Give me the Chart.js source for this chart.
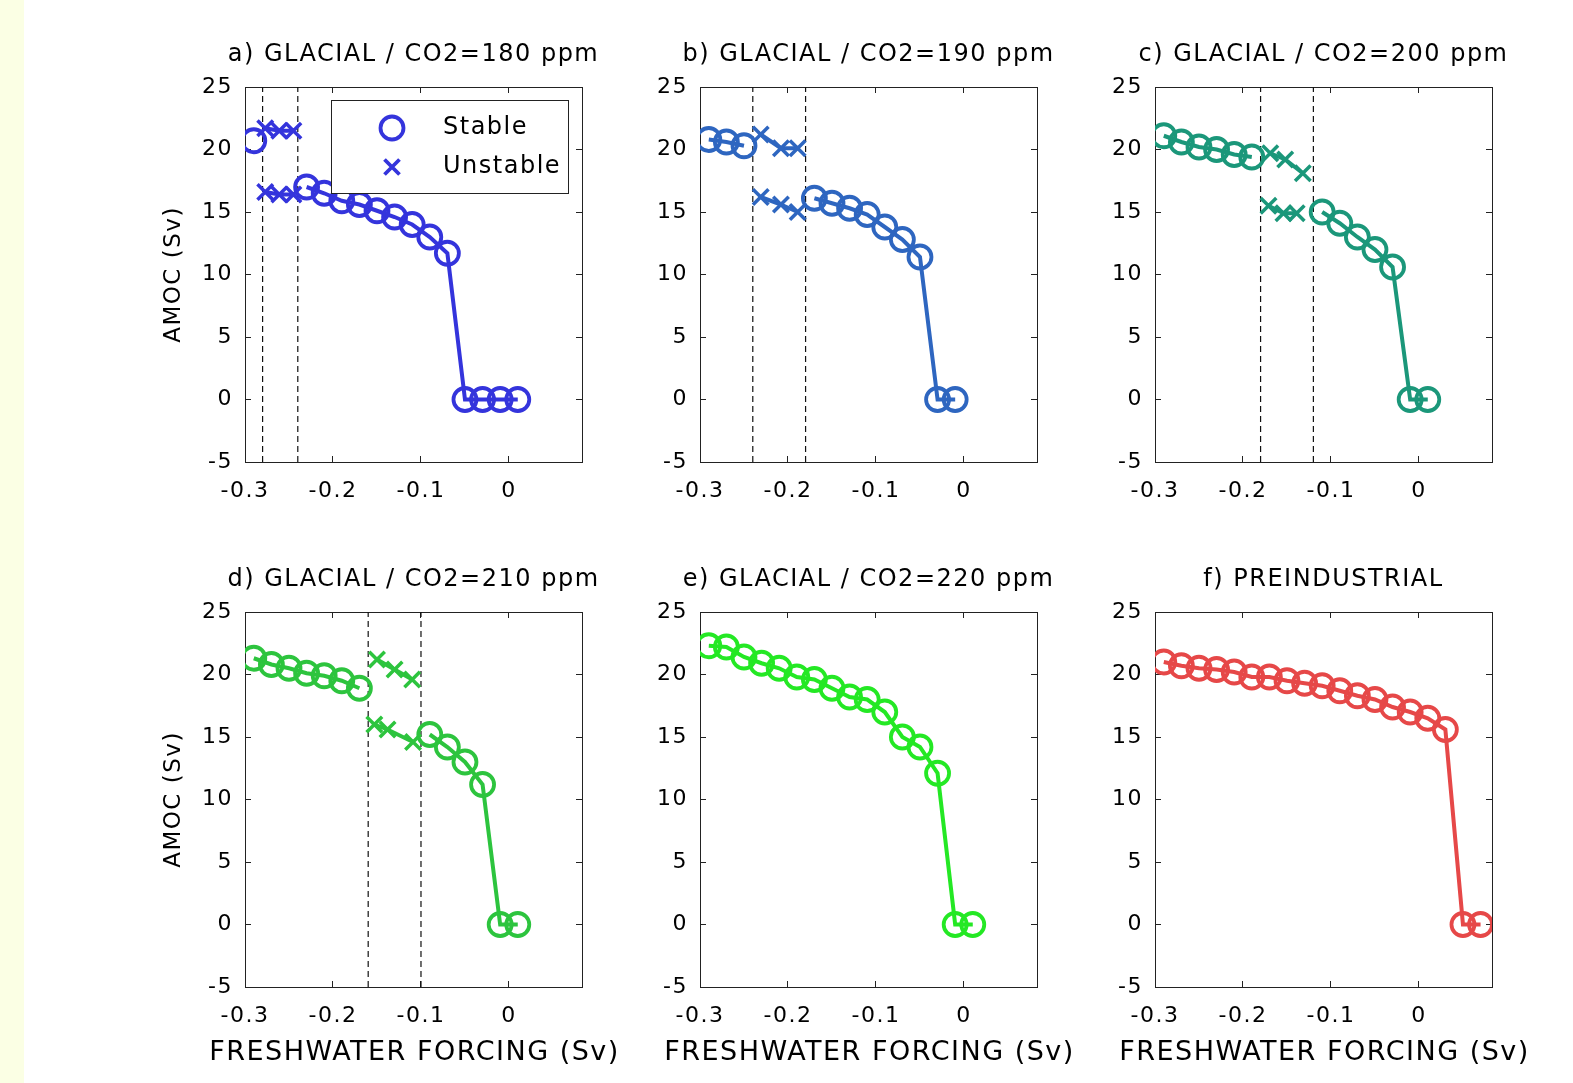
<!DOCTYPE html>
<html>
<head>
<meta charset="utf-8">
<title>AMOC hysteresis</title>
<script src="https://cdn.jsdelivr.net/npm/chart.js@4.4.1/dist/chart.umd.min.js"></script>
<style>
  html, body { margin: 0; padding: 0; background: #fff; }
  body { width: 1573px; height: 1083px; position: relative; overflow: hidden; }
  .strip { position: absolute; left: 0; top: 0; width: 24px; height: 1083px; background: #fbffe4; }
  canvas { position: absolute; }
</style>
</head>
<body>
<div class="strip"></div>
<canvas id="chart-a" width="547" height="515" style="left:140px;top:37px"></canvas>
<canvas id="chart-b" width="547" height="515" style="left:595px;top:37px"></canvas>
<canvas id="chart-c" width="547" height="515" style="left:1050px;top:37px"></canvas>
<canvas id="chart-d" width="547" height="515" style="left:140px;top:562px"></canvas>
<canvas id="chart-e" width="547" height="515" style="left:595px;top:562px"></canvas>
<canvas id="chart-f" width="547" height="515" style="left:1050px;top:562px"></canvas>
<script>
const xTicks = [-0.3, -0.2, -0.1, 0];
const yTicks = [-5, 0, 5, 10, 15, 20, 25];
const X_MIN = -0.3, X_MAX = 0.083;
const Y_MIN = -5, Y_MAX = 25;
const legendLabels = ["Stable", "Unstable"];
const X_TITLE = "FRESHWATER FORCING (Sv)";
const Y_TITLE = "AMOC (Sv)";

// a) 180 ppm
const aStableHiX = [-0.29];
const aStableHiY = [20.7];
const aUnstHiX = [-0.277, -0.261, -0.245];
const aUnstHiY = [21.7, 21.5, 21.5];
const aUnstLoX = [-0.277, -0.261, -0.245];
const aUnstLoY = [16.6, 16.4, 16.4];
const aStableLoX = [-0.23, -0.21, -0.19, -0.17, -0.15, -0.13, -0.11, -0.09, -0.07, -0.05, -0.03, -0.01, 0.01];
const aStableLoY = [17.0, 16.5, 15.9, 15.6, 15.1, 14.6, 14.0, 13.0, 11.7, 0, 0, 0, 0];
const aDashX = [-0.28, -0.24];

// b) 190 ppm
const bStableHiX = [-0.29, -0.27, -0.25];
const bStableHiY = [20.8, 20.6, 20.3];
const bUnstHiX = [-0.231, -0.208, -0.189];
const bUnstHiY = [21.2, 20.1, 20.1];
const bUnstLoX = [-0.231, -0.208, -0.189];
const bUnstLoY = [16.2, 15.6, 15.0];
const bStableLoX = [-0.17, -0.15, -0.13, -0.11, -0.09, -0.07, -0.05, -0.03, -0.01];
const bStableLoY = [16.1, 15.7, 15.3, 14.8, 13.8, 12.8, 11.4, 0, 0];
const bDashX = [-0.24, -0.18];

// c) 200 ppm
const cStableHiX = [-0.29, -0.27, -0.25, -0.23, -0.21, -0.19];
const cStableHiY = [21.1, 20.6, 20.2, 20.0, 19.6, 19.4];
const cUnstHiX = [-0.169, -0.152, -0.132];
const cUnstHiY = [19.7, 19.2, 18.1];
const cUnstLoX = [-0.171, -0.154, -0.139];
const cUnstLoY = [15.5, 14.9, 14.9];
const cStableLoX = [-0.11, -0.09, -0.07, -0.05, -0.03, -0.01, 0.01];
const cStableLoY = [15.0, 14.1, 13.0, 12.0, 10.6, 0, 0];
const cDashX = [-0.18, -0.12];

// d) 210 ppm
const dStableHiX = [-0.29, -0.27, -0.25, -0.23, -0.21, -0.19, -0.17];
const dStableHiY = [21.3, 20.8, 20.5, 20.1, 19.9, 19.5, 18.9];
const dUnstHiX = [-0.15, -0.13, -0.11];
const dUnstHiY = [21.2, 20.4, 19.6];
const dUnstLoX = [-0.153, -0.138, -0.109];
const dUnstLoY = [16.0, 15.6, 14.6];
const dStableLoX = [-0.09, -0.07, -0.05, -0.03, -0.01, 0.01];
const dStableLoY = [15.2, 14.2, 13.0, 11.2, 0, 0];
const dDashX = [-0.16, -0.10];

// e) 220 ppm
const eStableX = [-0.29, -0.27, -0.25, -0.23, -0.21, -0.19, -0.17, -0.15, -0.13, -0.11, -0.09, -0.07, -0.05, -0.03, -0.01, 0.01];
const eStableY = [22.3, 22.2, 21.4, 20.9, 20.5, 19.8, 19.6, 18.9, 18.2, 18.0, 17.0, 15.0, 14.2, 12.1, 0, 0];

// f) preindustrial
const fStableX = [-0.29, -0.27, -0.25, -0.23, -0.21, -0.19, -0.17, -0.15, -0.13, -0.11, -0.09, -0.07, -0.05, -0.03, -0.01, 0.01, 0.03, 0.05, 0.07];
const fStableY = [21.0, 20.7, 20.5, 20.4, 20.2, 19.8, 19.8, 19.5, 19.3, 19.1, 18.7, 18.3, 18.0, 17.4, 17.0, 16.5, 15.6, 0, 0];

const panels = [
  {
    id: "chart-a", title: "a) GLACIAL / CO2=180 ppm", color: "#3434dc",
    yTitle: true, xTitle: false, legend: true, dash: aDashX,
    series: [
      { x: aStableHiX, y: aStableHiY, stable: true },
      { x: aUnstHiX, y: aUnstHiY, stable: false },
      { x: aUnstLoX, y: aUnstLoY, stable: false },
      { x: aStableLoX, y: aStableLoY, stable: true },
    ],
  },
  {
    id: "chart-b", title: "b) GLACIAL / CO2=190 ppm", color: "#2e66c0",
    yTitle: false, xTitle: false, legend: false, dash: bDashX,
    series: [
      { x: bStableHiX, y: bStableHiY, stable: true },
      { x: bUnstHiX, y: bUnstHiY, stable: false },
      { x: bUnstLoX, y: bUnstLoY, stable: false },
      { x: bStableLoX, y: bStableLoY, stable: true },
    ],
  },
  {
    id: "chart-c", title: "c) GLACIAL / CO2=200 ppm", color: "#1b977a",
    yTitle: false, xTitle: false, legend: false, dash: cDashX,
    series: [
      { x: cStableHiX, y: cStableHiY, stable: true },
      { x: cUnstHiX, y: cUnstHiY, stable: false },
      { x: cUnstLoX, y: cUnstLoY, stable: false },
      { x: cStableLoX, y: cStableLoY, stable: true },
    ],
  },
  {
    id: "chart-d", title: "d) GLACIAL / CO2=210 ppm", color: "#2dc43e",
    yTitle: true, xTitle: true, legend: false, dash: dDashX,
    series: [
      { x: dStableHiX, y: dStableHiY, stable: true },
      { x: dUnstHiX, y: dUnstHiY, stable: false },
      { x: dUnstLoX, y: dUnstLoY, stable: false },
      { x: dStableLoX, y: dStableLoY, stable: true },
    ],
  },
  {
    id: "chart-e", title: "e) GLACIAL / CO2=220 ppm", color: "#24e824",
    yTitle: false, xTitle: true, legend: false, dash: [],
    series: [{ x: eStableX, y: eStableY, stable: true }],
  },
  {
    id: "chart-f", title: "f) PREINDUSTRIAL", color: "#e64848",
    yTitle: false, xTitle: true, legend: false, dash: [],
    series: [{ x: fStableX, y: fStableY, stable: true }],
  },
];

Chart.defaults.font.family = "'DejaVu Sans', 'Liberation Sans', sans-serif";
Chart.defaults.color = "#000";

// the original lettering is wide, so space the glyphs out a little
const wideText = {
  id: "wideText",
  beforeUpdate(chart) { chart.ctx.letterSpacing = "1.5px"; },
  beforeDraw(chart) { chart.ctx.letterSpacing = "1.5px"; },
};

// x caption drawn by hand: the scale title would squeeze it to the plot width
const xCaption = {
  id: "xCaption",
  afterDraw(chart, args, opts) {
    if (!opts.show) return;
    const { ctx, chartArea } = chart;
    ctx.save();
    ctx.font = "27px 'DejaVu Sans'";
    ctx.letterSpacing = "1.5px";
    ctx.fillStyle = "#000";
    ctx.textAlign = "center";
    ctx.textBaseline = "middle";
    ctx.fillText(X_TITLE, (chartArea.left + chartArea.right) / 2 + 1, chartArea.bottom + 66);
    ctx.restore();
  },
};

// boxed legend in the top right corner of panel a
const boxLegend = {
  id: "boxLegend",
  afterDatasetsDraw(chart, args, opts) {
    if (!opts.show) return;
    const { ctx, chartArea } = chart;
    const w = 237, h = 93;
    const left = Math.round(chartArea.right - 14 - w);
    const top = Math.round(chartArea.top + 13);
    ctx.save();
    ctx.fillStyle = "#fff";
    ctx.fillRect(left, top, w, h);
    ctx.strokeStyle = "#222";
    ctx.lineWidth = 1;
    ctx.strokeRect(left + 0.5, top + 0.5, w, h);
    legendLabels.forEach((label, i) => {
      const cx = left + 61, cy = top + 28 + i * 39;
      ctx.strokeStyle = opts.color;
      ctx.lineWidth = 3.8;
      ctx.beginPath();
      if (i === 0) {
        ctx.arc(cx, cy, 11.5, 0, Math.PI * 2);
      } else {
        const d = 7.5;
        ctx.moveTo(cx - d, cy - d); ctx.lineTo(cx + d, cy + d);
        ctx.moveTo(cx + d, cy - d); ctx.lineTo(cx - d, cy + d);
      }
      ctx.stroke();
      ctx.fillStyle = "#000";
      ctx.font = "24px 'DejaVu Sans'";
      ctx.letterSpacing = "1.5px";
      ctx.textBaseline = "middle";
      ctx.textAlign = "left";
      ctx.fillText(label, left + 112, cy);
    });
    ctx.restore();
  },
};

function axisGrid() {
  return { drawOnChartArea: false, drawTicks: true, tickLength: -6, color: "#222", lineWidth: 1 };
}

function axisBorder() {
  return { display: true, color: "#222", width: 1 };
}

function makePanel(p) {
  const datasets = [];
  p.dash.forEach((x) => {
    datasets.push({
      data: [{ x, y: Y_MIN }, { x, y: Y_MAX }],
      showLine: true,
      borderColor: "#111",
      borderWidth: 1.2,
      borderDash: [6, 4],
      pointRadius: 0,
      order: 10,
    });
  });
  p.series.forEach((s) => {
    datasets.push({
      data: s.x.map((x, i) => ({ x, y: s.y[i] })),
      showLine: true,
      tension: 0,
      borderColor: p.color,
      backgroundColor: "rgba(0,0,0,0)",
      borderWidth: 4,
      pointStyle: s.stable ? "circle" : "crossRot",
      pointRadius: s.stable ? 11.5 : 11,
      pointBorderWidth: s.stable ? 3.8 : 3.5,
      pointBorderColor: p.color,
      pointBackgroundColor: "rgba(0,0,0,0)",
      order: 1,
    });
  });

  const setX = (scale) => { scale.ticks = xTicks.map((v) => ({ value: v })); };
  const setY = (scale) => { scale.ticks = yTicks.map((v) => ({ value: v })); };

  new Chart(document.getElementById(p.id), {
    type: "scatter",
    data: { datasets },
    options: {
      responsive: false,
      animation: false,
      devicePixelRatio: 1,
      layout: { padding: { top: 3.6, left: 0, right: 0, bottom: 0 } },
      plugins: {
        legend: { display: false },
        tooltip: { enabled: false },
        title: {
          display: true,
          text: p.title,
          color: "#000",
          font: { size: 24, weight: "normal" },
          padding: { top: 0, bottom: 17.6 },
        },
        boxLegend: { show: p.legend, color: p.color },
        xCaption: { show: p.xTitle },
      },
      scales: {
        x: {
          type: "linear", position: "bottom", min: X_MIN, max: X_MAX,
          afterBuildTicks: setX,
          afterFit: (s) => { s.height = 90; },
          ticks: { padding: 22, color: "#000", font: { size: 22 }, maxRotation: 0, autoSkip: false, callback: (v) => String(v) },
          grid: axisGrid(),
          border: axisBorder(),
        },
        x2: {
          type: "linear", position: "top", min: X_MIN, max: X_MAX,
          afterBuildTicks: setX,
          afterFit: (s) => { s.height = 0; },
          ticks: { display: false },
          grid: axisGrid(),
          border: axisBorder(),
        },
        y: {
          type: "linear", position: "left", min: Y_MIN, max: Y_MAX,
          afterBuildTicks: setY,
          afterFit: (s) => { s.width = 105; },
          ticks: { padding: 18, color: "#000", font: { size: 22 }, callback: (v) => String(v) },
          grid: axisGrid(),
          border: axisBorder(),
          title: { display: p.yTitle, text: Y_TITLE, color: "#000", font: { size: 23 }, padding: { top: 20, bottom: 0 } },
        },
        y2: {
          type: "linear", position: "right", min: Y_MIN, max: Y_MAX,
          afterBuildTicks: setY,
          afterFit: (s) => { s.width = 105; },
          ticks: { display: false },
          grid: axisGrid(),
          border: axisBorder(),
        },
      },
    },
    plugins: [wideText, boxLegend, xCaption],
  });
}

panels.forEach(makePanel);
</script>
</body>
</html>
